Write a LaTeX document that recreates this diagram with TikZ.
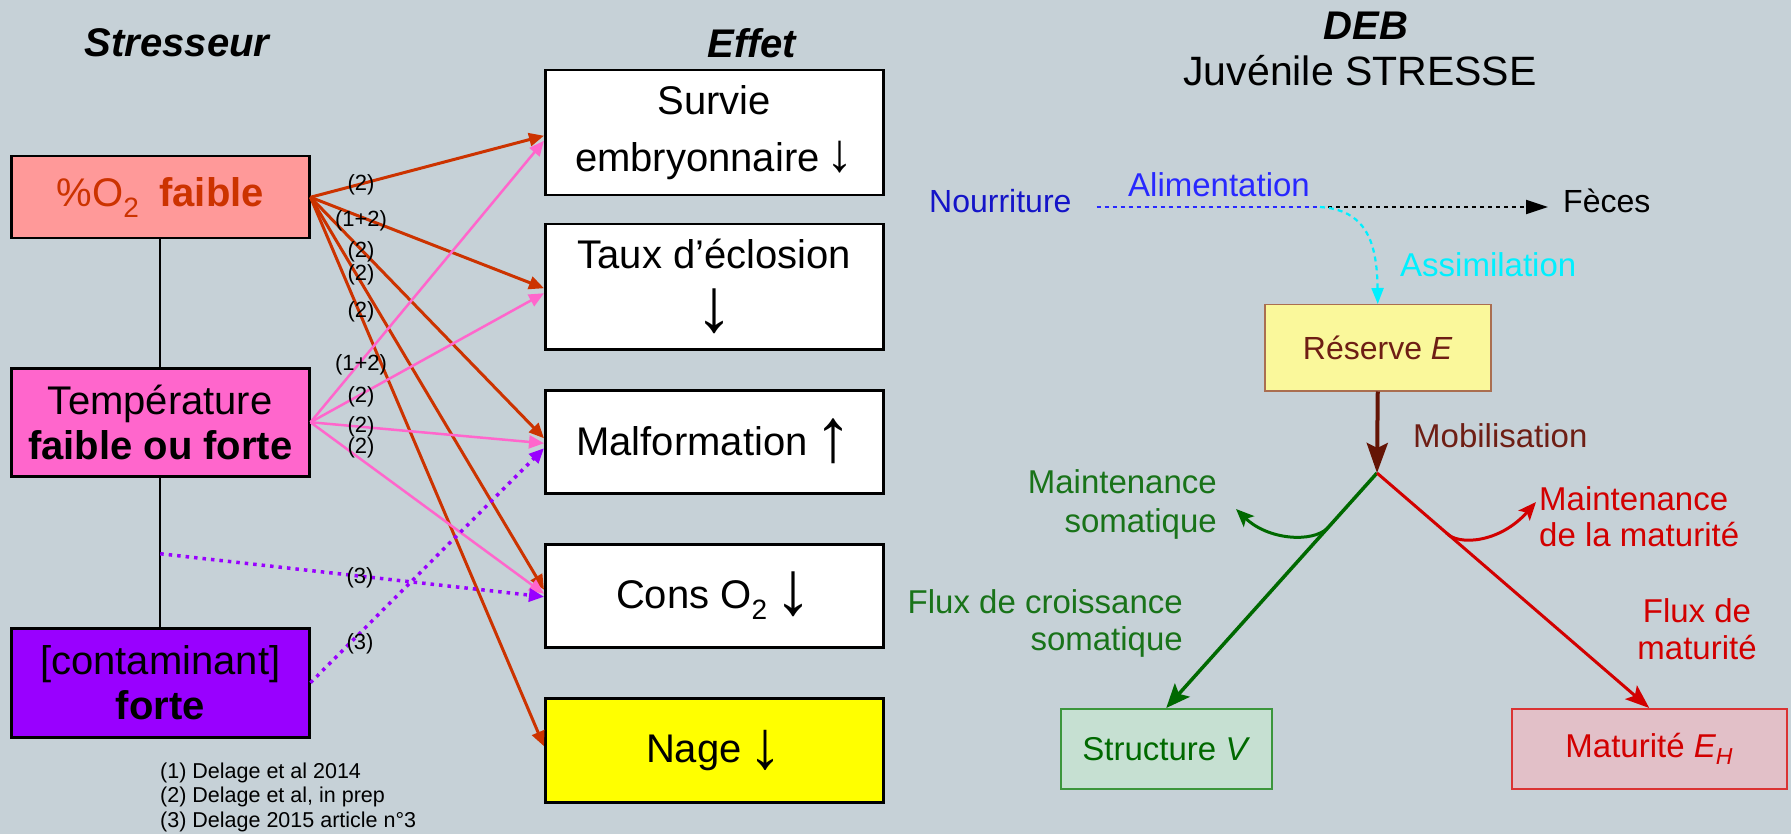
\documentclass[tikz,border=0pt]{standalone}
\usepackage{fontspec}
\setmainfont{Liberation Sans}
\usetikzlibrary{arrows.meta,calc}

\definecolor{bg}{RGB}{198,209,215}
\definecolor{oxred}{RGB}{204,51,0}
\definecolor{oxfill}{RGB}{255,153,153}
\definecolor{tpink}{RGB}{255,102,204}
\definecolor{cviolet}{RGB}{153,0,255}
\definecolor{nblue}{RGB}{20,20,200}
\definecolor{ablue}{RGB}{40,40,255}
\definecolor{acyan}{RGB}{0,240,255}
\definecolor{mbrown}{RGB}{100,20,5}
\definecolor{mtext}{RGB}{110,30,20}
\definecolor{rfill}{RGB}{250,248,155}
\definecolor{rborder}{RGB}{170,110,80}
\definecolor{sgreen}{RGB}{0,105,0}
\definecolor{tgreen}{RGB}{25,115,25}
\definecolor{sfill}{RGB}{198,224,210}
\definecolor{sborder}{RGB}{60,150,60}
\definecolor{mred}{RGB}{210,0,0}
\definecolor{mfill}{RGB}{226,192,200}
\definecolor{nagefill}{RGB}{255,255,0}

\newcommand{\fsz}[2]{\fontsize{#1}{#2}\selectfont}
% trend arrows drawn at a larger size than the surrounding words
\newcommand{\trend}[2]{{\fsz{#1}{#1}#2}}

\tikzset{
  stressbox/.style={draw=black, line width=2.5pt, anchor=north west, inner sep=0pt,
    minimum width=298pt, align=center, font=\fsz{40}{45}},
  effbox/.style={draw=black, line width=2.5pt, fill=white, anchor=north west, inner sep=0pt,
    minimum width=338pt, align=center, font=\fsz{40}{57}},
  coltitle/.style={font=\fsz{40}{46}\bfseries\itshape},
  ref/.style={font=\fsz{22}{24}, inner sep=0pt},
  tipA/.style={-{Triangle[length=15pt,width=13pt]}},
  oxarrow/.style={oxred, line width=3pt, tipA},
  temparrow/.style={tpink, line width=2.5pt, tipA},
  contarrow/.style={cviolet, line width=3.5pt, dash pattern=on 3.5pt off 5pt, tipA},
  debtext/.style={font=\fsz{33}{38}, inner sep=0pt},
  debbox/.style={anchor=north west, inner sep=0pt, line width=1.5pt, font=\fsz{33}{38}},
}

\begin{document}
\begin{tikzpicture}[x=1pt, y=-1pt]
  % canvas
  \fill[bg] (0,0) rectangle (1791,834);
  \useasboundingbox (0,0) rectangle (1791,834);

  % ---------- column titles ----------
  \node[coltitle] (tstress) at (177,43) {Stresseur};
  \node[coltitle] (teffet) at (752,43) {Effet};

  % ---------- stressors ----------
  \node[stressbox, fill=oxfill, minimum height=82pt, text=oxred] (oxy) at (10,155)
    {\%O\textsubscript{2}\hspace{0.5em}\textbf{faible}};
  \node[stressbox, fill=tpink, minimum height=108pt] (temp) at (10,367)
    {Température\\\textbf{faible ou forte}};
  \node[stressbox, fill=cviolet, minimum height=109pt] (cont) at (10,627)
    {[contaminant]\\\textbf{forte}};

  \draw[black, line width=2pt] (oxy.south) -- (temp.north);
  \draw[black, line width=2pt] (temp.south) -- (cont.north);
  \coordinate (mid) at ($(temp.south)!0.51!(cont.north)$);

  % ---------- effects ----------
  \node[effbox, minimum height=125pt] (surv) at (544,69)
    {Survie\\embryonnaire\,\trend{54}{↓}};
  \node[effbox, minimum height=125pt] (eclo) at (544,223)
    {Taux d’éclosion\\\raisebox{-6pt}{\trend{76}{↓}}};
  \node[effbox, minimum height=103pt] (malf) at (544,389)
    {Malformation\,\raisebox{-6pt}{\trend{76}{↑}}};
  \node[effbox, minimum height=103pt] (cons) at (544,543)
    {Cons O\textsubscript{2}\,\raisebox{-6pt}{\trend{76}{↓}}};
  \node[effbox, minimum height=104pt, fill=nagefill] (nage) at (544,697)
    {Nage\,\raisebox{-6pt}{\trend{68}{↓}}};

  % ---------- links: low oxygen ----------
  \draw[oxarrow] (oxy.east) -- ($(surv.west)+(0,3)$);
  \draw[oxarrow] (oxy.east) -- ($(eclo.west)+(0,1.5)$);
  \draw[oxarrow] (oxy.east) -- ($(malf.west)+(0,-3.5)$);
  \draw[oxarrow] (oxy.east) -- ($(cons.west)+(0,-6)$);
  \draw[oxarrow] (oxy.east) -- ($(nage.west)+(0,-4)$);

  % ---------- links: temperature ----------
  \draw[temparrow] (temp.east) -- ($(surv.west)+(0,8)$);
  \draw[temparrow] (temp.east) -- ($(eclo.west)+(0,6.5)$);
  \draw[temparrow] (temp.east) -- ($(malf.west)+(0,1.5)$);
  \draw[temparrow] (temp.east) -- ($(cons.west)+(0,-2)$);

  % ---------- links: contaminant ----------
  \draw[contarrow] (mid) -- ($(cons.west)+(0,1)$);
  \draw[contarrow] (cont.east) -- ($(malf.west)+(0,6.5)$);

  % ---------- reference marks ----------
  \node[ref] (r1) at (361,185) {(2)};
  \node[ref] (r2) at (361,221) {(1+2)};
  \node[ref] (r3) at (361,252) {(2)};
  \node[ref] (r4) at (361,275) {(2)};
  \node[ref] (r5) at (361,312) {(2)};
  \node[ref] (r6) at (361,365) {(1+2)};
  \node[ref] (r7) at (361,397) {(2)};
  \node[ref] (r8) at (361,427) {(2)};
  \node[ref] (r9) at (361,448) {(2)};
  \node[ref] (r10) at (360,578) {(3)};
  \node[ref] (r11) at (360,644) {(3)};

  % ---------- sources ----------
  \node[anchor=west, align=left, inner sep=0pt, font=\fsz{21.5}{24.5}] (refs) at (160,797)
    {(1) Delage et al 2014\\(2) Delage et al, in prep\\(3) Delage 2015 article n°3};

  % ---------- DEB scheme ----------
  \node[font=\fsz{40}{46}\bfseries\itshape] (deb) at (1366,26) {DEB};
  \node[font=\fsz{41}{46}] (juv) at (1360,71) {Juvénile STRESSE};

  \node[debtext, anchor=base west, text=nblue, font=\fsz{32}{38}] (food) at (929,213) {Nourriture};
  \node[debtext, anchor=base west, text=ablue] (alim) at (1128,197) {Alimentation};
  \node[debtext, anchor=base west, font=\fsz{32}{38}] (feces) at (1563,213) {Fèces};
  \coordinate (fork) at (1320,207);

  \draw[ablue, line width=2.2pt, dash pattern=on 4pt off 4pt, shorten <=25pt]
    (food.east |- fork) -- (fork);
  \draw[black, line width=2.2pt, dash pattern=on 4pt off 4pt,
        -{Triangle[length=22pt,width=14pt]}, shorten >=15pt]
    (fork) -- (feces.west |- fork);

  \node[debbox, draw=rborder, fill=rfill, minimum width=226pt, minimum height=86pt,
        text=mtext, font=\fsz{32}{38}] (res) at (1264,304) {Réserve \textit{E}};

  \draw[acyan, line width=2.2pt, dash pattern=on 5pt off 4pt,
        -{Triangle[length=16pt,width=12pt]}]
    (fork) .. controls (1365,210) and (1377,240) .. (res.north);
  \node[debtext, anchor=base west, text=acyan] (assim) at (1400,277) {Assimilation};

  \coordinate (apex) at (1377,473);
  \draw[mbrown, line width=4pt, -{Stealth[length=30pt,width=21pt,inset=5pt]}]
    (res.south) -- (apex);
  \node[debtext, anchor=base west, text=mtext] (mobil) at (1413,447) {Mobilisation};

  \node[debbox, draw=sborder, fill=sfill, minimum width=211pt, minimum height=80pt,
        text=sgreen] (struct) at (1060,708) {Structure \textit{V}};
  \node[debbox, draw=mred!80, fill=mfill, minimum width=275pt, minimum height=80pt,
        text=mred] (mat) at (1511,708) {Maturité \textit{E\textsubscript{H}}};

  \draw[sgreen, line width=3.5pt, -{Stealth[length=24pt,width=20pt,inset=5pt]}]
    (apex) -- (struct.north);
  \draw[mred, line width=3pt, -{Stealth[length=24pt,width=18pt,inset=5pt]}]
    (apex) -- (mat.north);

  \coordinate (gbranch) at ($(apex)!0.235!(struct.north)$);
  \coordinate (rbranch) at ($(apex)!0.255!(mat.north)$);
  \coordinate (gmaint) at (1236,509);
  \coordinate (rmaint) at (1536,502);
  \draw[sgreen, line width=3pt, -{Stealth[length=18pt,width=15pt,inset=4pt]}]
    (gbranch) .. controls (1312,543) and (1268,540) .. (gmaint);
  \draw[mred, line width=3pt, -{Stealth[length=18pt,width=15pt,inset=4pt]}]
    (rbranch) .. controls (1458,546) and (1500,543) .. (rmaint);

  % multi-line labels: the base anchor sits on the last line
  \node[debtext, anchor=base east, align=right, text=tgreen, font=\fsz{33}{39}] (msom) at (1217,532)
    {Maintenance\\somatique};
  \node[debtext, anchor=base west, align=left, text=mred, font=\fsz{33}{36}] (mmat) at (1539,546)
    {Maintenance\\de la maturité};
  \node[debtext, anchor=base east, align=right, text=tgreen, font=\fsz{33}{37}] (fcs) at (1183,650)
    {Flux de croissance\\somatique};
  \node[debtext, anchor=base, align=center, text=mred, font=\fsz{33}{37}] (fmat) at (1697,659)
    {Flux de\\maturité};
\end{tikzpicture}
\end{document}
